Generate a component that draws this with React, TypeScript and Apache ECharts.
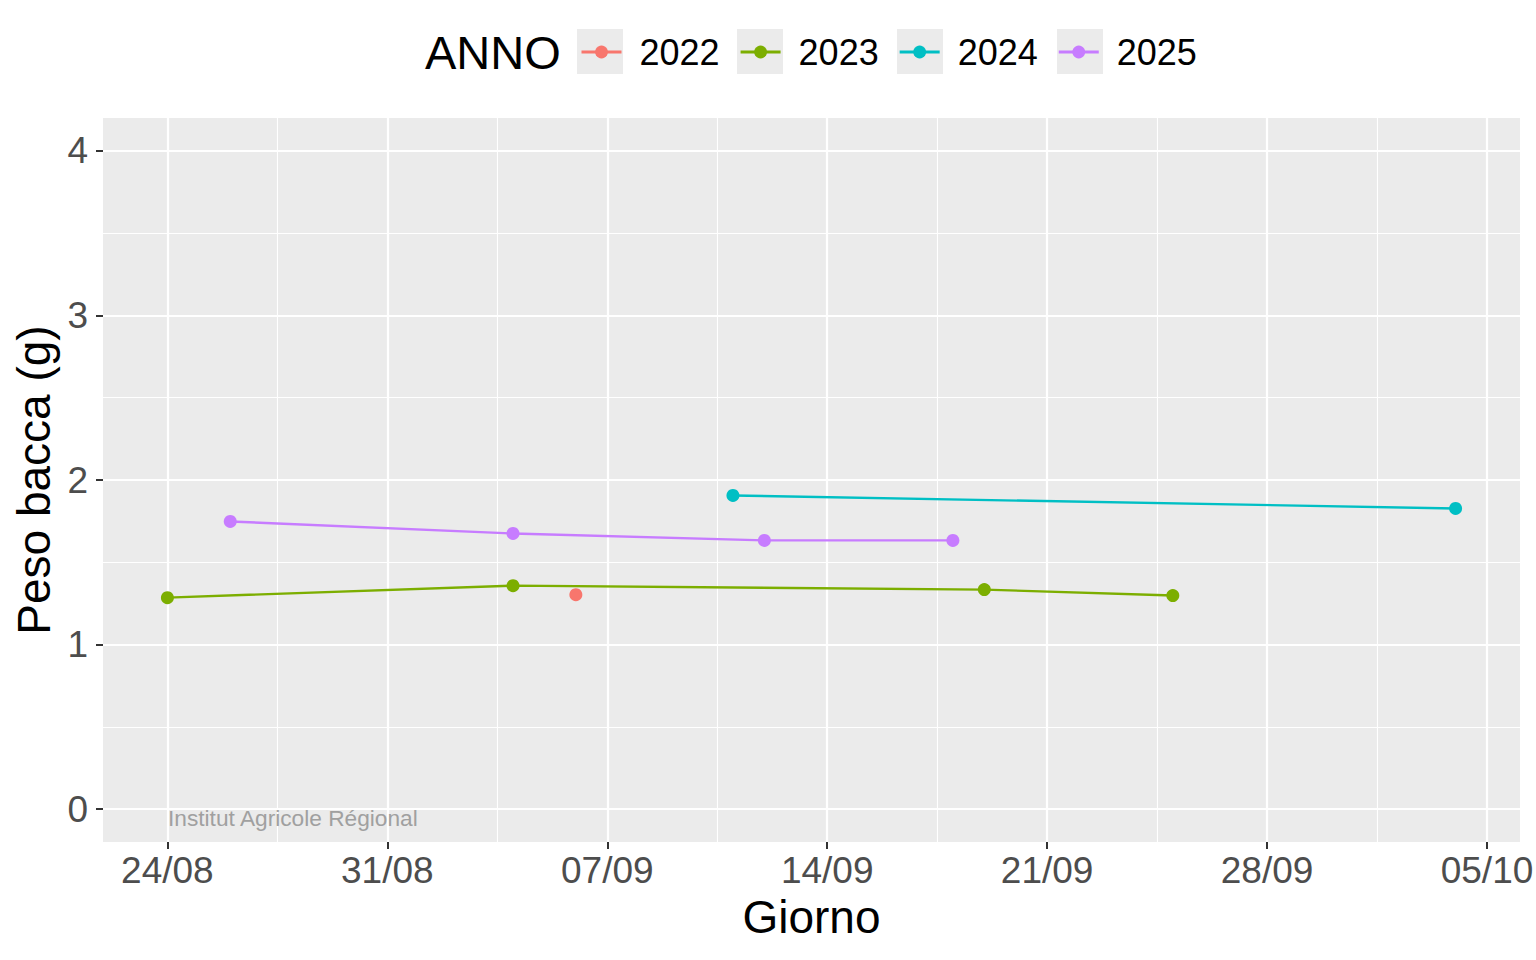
import React, { useEffect, useRef } from "react";
import * as echarts from "echarts";

// ---- data ----
const yearNames = ["2022", "2023", "2024", "2025"];
const yearColors = ["#F8766D", "#7CAE00", "#00BFC4", "#C77CFF"];

const dates2022 = ["06/09"];
const values2022 = [1.303];

const dates2023 = ["24/08", "04/09", "19/09", "25/09"];
const values2023 = [1.285, 1.358, 1.334, 1.298];

const dates2024 = ["11/09", "04/10"];
const values2024 = [1.906, 1.827];

const dates2025 = ["26/08", "04/09", "12/09", "18/09"];
const values2025 = [1.748, 1.675, 1.633, 1.633];

const xTickLabels = ["24/08", "31/08", "07/09", "14/09", "21/09", "28/09", "05/10"];
const yTicks = [0, 1, 2, 3, 4];
const yMinorTicks = [0.5, 1.5, 2.5, 3.5];
const yLimits = [0, 4];

const FONT = "Liberation Sans";

function dayNum(s: string): number {
  const [d, m] = s.split("/").map(Number);
  return Math.round(Date.UTC(2001, m - 1, d) / 86400000);
}

const allDates = [dates2022, dates2023, dates2024, dates2025];
const allValues = [values2022, values2023, values2024, values2025];

export default function App() {
  const ref = useRef<HTMLDivElement | null>(null);

  useEffect(() => {
    document.body.style.margin = "0";
    if (!ref.current) return;
    const chart = echarts.init(ref.current, undefined, { renderer: "svg" });

    const xMajor = xTickLabels.map(dayNum);
    const xMinor = xMajor.slice(0, -1).map((v, i) => (v + xMajor[i + 1]) / 2);
    const labelByDay: Record<number, string> = {};
    xTickLabels.forEach((l) => (labelByDay[dayNum(l)] = l));

    const allX = allDates.flat().map(dayNum);
    const xLo = Math.min(...allX);
    const xHi = Math.max(...allX);
    const xPad = (xHi - xLo) * 0.05;
    const yPad = (yLimits[1] - yLimits[0]) * 0.05;

    const series = yearNames.map((name, k) => ({
      name,
      type: "line",
      xAxisIndex: 0,
      yAxisIndex: 0,
      data: allDates[k].map((d, i) => [dayNum(d), allValues[k][i]]),
      symbol: "circle",
      symbolSize: 13,
      showSymbol: true,
      color: yearColors[k],
      lineStyle: { color: yearColors[k], width: 2.4 },
      itemStyle: { color: yearColors[k] },
      emphasis: { disabled: true },
      z: 5,
    }));

    const legendLeft = 580;
    const legendStep = 160;

    const option: any = {
      animation: false,
      backgroundColor: "#FFFFFF",
      textStyle: { fontFamily: FONT },
      grid: {
        left: 103,
        top: 118,
        width: 1417,
        height: 724,
        show: true,
        backgroundColor: "#EBEBEB",
        borderWidth: 0,
        containLabel: false,
        outerBoundsMode: "none",
      },
      legend: {
        data: yearNames,
        left: legendLeft,
        top: 34,
        padding: 0,
        itemWidth: 40,
        itemHeight: 16,
        itemGap: 19.5,
        selectedMode: false,
        lineStyle: { width: 3 },
        textStyle: {
          fontSize: 36,
          color: "#000000",
          fontFamily: FONT,
          padding: [0, 0, 0, 13],
        },
      },
      xAxis: [
        {
          type: "value",
          gridIndex: 0,
          min: xLo - xPad,
          max: xHi + xPad,
          position: "bottom",
          name: "Giorno",
          nameLocation: "middle",
          nameGap: 51,
          nameTextStyle: { fontSize: 46, color: "#000000", fontFamily: FONT },
          axisLine: { show: false, onZero: false },
          axisTick: {
            show: true,
            customValues: xMajor,
            length: 7,
            lineStyle: { color: "#333333", width: 2 },
          },
          axisLabel: {
            show: true,
            customValues: xMajor,
            formatter: (v: number) => labelByDay[Math.round(v)] ?? "",
            fontSize: 37,
            color: "#4D4D4D",
            fontFamily: FONT,
            margin: 10,
            hideOverlap: false,
          },
          splitLine: { show: true, lineStyle: { color: "#FFFFFF", width: 2.2 } },
        },
        {
          type: "value",
          gridIndex: 0,
          min: xLo - xPad,
          max: xHi + xPad,
          position: "top",
          axisLine: { show: false, onZero: false },
          axisTick: { show: false, customValues: xMinor },
          axisLabel: { show: false, customValues: xMinor },
          splitLine: { show: true, lineStyle: { color: "#FFFFFF", width: 1.1 } },
        },
      ],
      yAxis: [
        {
          type: "value",
          gridIndex: 0,
          min: yLimits[0] - yPad,
          max: yLimits[1] + yPad,
          position: "left",
          name: "Peso bacca (g)",
          nameLocation: "middle",
          nameRotate: 90,
          nameGap: 46,
          nameTextStyle: { fontSize: 46, color: "#000000", fontFamily: FONT },
          axisLine: { show: false, onZero: false },
          axisTick: {
            show: true,
            customValues: yTicks,
            length: 7,
            lineStyle: { color: "#333333", width: 2 },
          },
          axisLabel: {
            show: true,
            customValues: yTicks,
            fontSize: 37,
            color: "#4D4D4D",
            fontFamily: FONT,
            margin: 15,
          },
          splitLine: { show: true, lineStyle: { color: "#FFFFFF", width: 2.2 } },
        },
        {
          type: "value",
          gridIndex: 0,
          min: yLimits[0] - yPad,
          max: yLimits[1] + yPad,
          position: "right",
          axisLine: { show: false, onZero: false },
          axisTick: { show: false, customValues: yMinorTicks },
          axisLabel: { show: false, customValues: yMinorTicks },
          splitLine: { show: true, lineStyle: { color: "#FFFFFF", width: 1.1 } },
        },
      ],
      graphic: [
        ...yearNames.map((_, i) => ({
          type: "rect",
          z: 0,
          shape: { x: legendLeft - 3 + legendStep * i, y: 29, width: 46, height: 45 },
          style: { fill: "#EBEBEB" },
          silent: true,
        })),
        {
          type: "text",
          z: 1,
          x: 425,
          y: 52,
          style: {
            text: "ANNO",
            fontSize: 47,
            fontFamily: FONT,
            fill: "#000000",
            verticalAlign: "middle",
            align: "left",
          },
          silent: true,
        },
        {
          type: "text",
          z: 10,
          x: 168,
          y: 818,
          style: {
            text: "Institut Agricole Régional",
            fontSize: 22.7,
            fontFamily: FONT,
            fill: "#A0A0A0",
            verticalAlign: "middle",
            align: "left",
          },
          silent: true,
        },
      ],
      series,
    };

    chart.setOption(option);
    return () => chart.dispose();
  }, []);

  return <div ref={ref} style={{ width: 1536, height: 960 }} />;
}
